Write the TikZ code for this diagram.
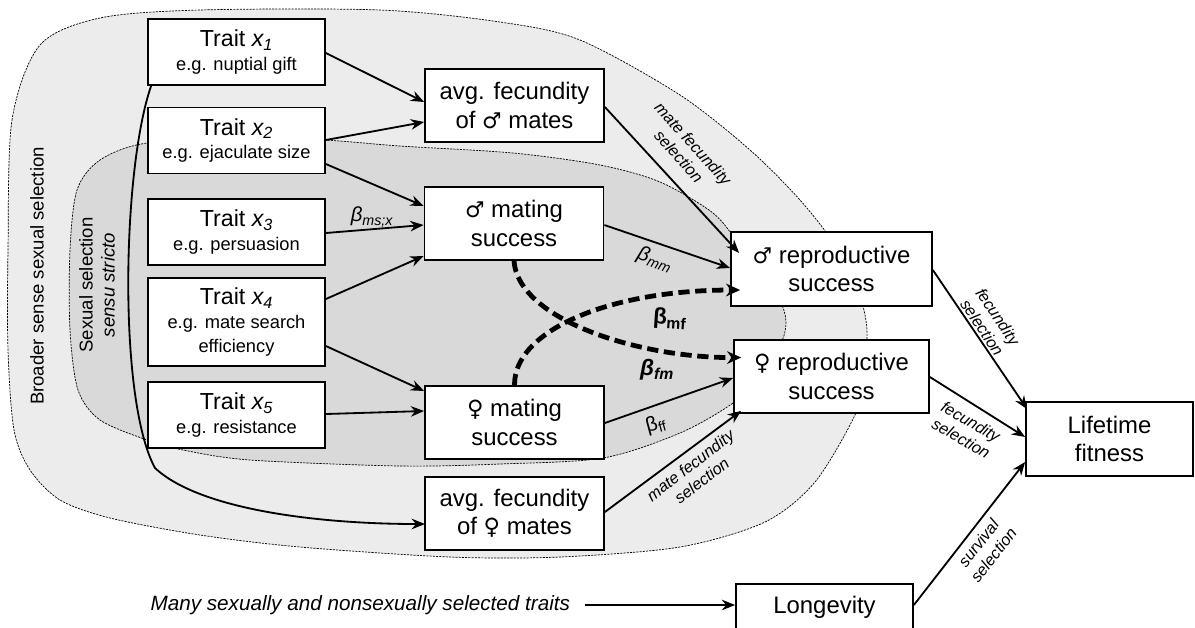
\documentclass[tikz,border=0pt]{standalone}
\usepackage{fontspec}
\setmainfont{Liberation Sans}
\newfontfamily\symfont{DejaVu Sans}
\usetikzlibrary{arrows.meta,calc}
\definecolor{outerzone}{gray}{0.925}
\definecolor{innerzone}{gray}{0.85}
\tikzset{
  box/.style={draw, line width=1.2pt, fill=white, align=center, inner sep=0pt, font=\fontsize{17}{20}\selectfont},
  trait/.style={box, minimum width=4.425cm, minimum height=1.65cm, font=\fontsize{16.5}{17}\selectfont},
  mid/.style={box, minimum width=4.475cm, minimum height=1.825cm},
  arr/.style={line width=1.3pt, -{Stealth[length=9.5pt,width=7.5pt]}},
  dasharr/.style={line width=3.4pt, dash pattern=on 8pt off 4pt, -{Stealth[length=10pt,width=9pt]}},
  zone/.style={line width=0.5pt, dash pattern=on 1.5pt off 0.8pt},
  sel/.style={font=\fontsize{11.5}{13.5}\selectfont\itshape, align=center},
  coef/.style={font=\fontsize{14.5}{16}\selectfont},
  coefbig/.style={font=\fontsize{16}{17}\selectfont\bfseries}
}
\newcommand{\eg}[1]{{\fontsize{13}{15}\selectfont #1}}
\newcommand{\male}{{\symfont\fontsize{15.5}{20}\selectfont ♂}}
\newcommand{\female}{{\symfont\fontsize{16}{20}\selectfont ♀}}
\begin{document}
\begin{tikzpicture}[x=0.025cm,y=-0.025cm]
    \useasboundingbox (0,0) rectangle (1195,627);
    \draw[zone, fill=outerzone] plot[smooth cycle] coordinates {(8,250) (12,120) (40,45) (100,18) (200,10) (380,10) (500,22) (580,40) (680,95) (750,150) (800,200) (835,245) (858,290) (867,330) (863,380) (855,415) (815,482) (765,522) (680,547) (560,557) (450,557) (300,547) (200,535) (110,518) (60,500) (30,470) (14,430) (8,350)};
    \draw[zone, fill=innerzone] plot[smooth cycle] coordinates {(147,143) (250,138) (325,140) (400,146) (513,153) (600,165) (660,182) (713,213) (740,245) (765,275) (782,305) (786,323) (782,341) (765,372) (733,403) (680,433) (603,458) (500,464) (400,466) (250,460) (183,450) (147,440) (100,420) (78,390) (70,330) (70,250) (77,190) (100,160)};
    \node[rotate=90, font=\fontsize{13.2}{15}\selectfont] (broad) at (37,276) {Broader sense sexual selection};
    \node[rotate=90, align=center, font=\fontsize{13.2}{15.5}\selectfont] (strict) at (97,285) {Sexual selection\\\textit{sensu stricto}};
    \node[trait] (x1) at (236.5,52) {Trait \textit{x\textsubscript{1}}\\\eg{e.g. nuptial gift}};
    \node[trait] (x2) at (236.5,140.5) {Trait \textit{x\textsubscript{2}}\\\eg{e.g. ejaculate size}};
    \node[trait] (x3) at (236.5,232) {Trait \textit{x\textsubscript{3}}\\\eg{e.g. persuasion}};
    \node[trait, minimum height=2.2cm] (x4) at (236.5,322) {Trait \textit{x\textsubscript{4}}\\\eg{e.g. mate search}\\\eg{efficiency}};
    \node[trait] (x5) at (236.5,415) {Trait \textit{x\textsubscript{5}}\\\eg{e.g. resistance}};
    \draw[arr] ($(x1.south west)+(4,0)$) .. controls (122,170) and (118,400) .. (155,468) .. controls (200,510) and (320,524) .. (425,524);
    \node[mid] (amale) at (514.5,105.5) {avg. fecundity\\of \male{} mates};
    \node[mid] (msucc) at (514,223.5) {\male{} mating\\success};
    \node[mid] (fsucc) at (514.5,422.5) {\female{} mating\\success};
    \node[mid] (afemale) at (514.5,513.5) {avg. fecundity\\of \female{} mates};
    \node[box, minimum width=5.025cm, minimum height=1.85cm] (mrepro) at (831.5,269) {\male{} reproductive\\success};
    \node[box, minimum width=4.875cm, minimum height=1.825cm] (frepro) at (831.5,376.5) {\female{} reproductive\\success};
    \node[box, minimum width=4.175cm, minimum height=1.85cm] (life) at (1109.5,439) {Lifetime\\fitness};
    \node[box, minimum width=4.425cm, minimum height=1.15cm] (longev) at (824.5,607) {Longevity};
    \node[anchor=east, font=\fontsize{14.7}{16}\selectfont\itshape] (many) at (575,605) {Many sexually and nonsexually selected traits};
    \draw[arr] (x1.east |- 0,53) -- (amale.west |- 0,102);
    \draw[arr] (x2.east |- 0,140) -- (amale.west |- 0,122);
    \draw[arr] (x2.east |- 0,164) -- (msucc.west |- 0,206);
    \draw[arr] (x3.east |- 0,233) -- (msucc.west |- 0,225);
    \draw[arr] (x4.east |- 0,299) -- (msucc.west |- 0,256);
    \draw[arr] (x4.east |- 0,346) -- (fsucc.west |- 0,391);
    \draw[arr] (x5.east |- 0,414) -- (fsucc.west |- 0,411);
    \draw[arr] (amale.east |- 0,107) -- ($(mrepro.west)+(9,-16)$);
    \draw[arr] (msucc.east |- 0,225) -- (mrepro.west |- 0,268);
    \draw[arr] (fsucc.east |- 0,423) -- (frepro.west |- 0,378);
    \draw[arr] (afemale.east |- 0,512) -- ($(frepro.south west)+(8,-3)$);
    \draw[arr] (mrepro.east |- 0,270) -- ($(life.north west)+(2,8)$);
    \draw[arr] (frepro.east |- 0,377) -- (life.west |- 0,437);
    \draw[arr] (longev.east |- 0,605) -- (life.west |- 0,462);
    \draw[arr] ([xshift=7pt]many.east) -- (longev.west |- 0,605);
    \draw[dasharr] (msucc.south) .. controls (518,320) and (640,358) .. ($(frepro.west)+(8,-19)$);
    \draw[dasharr] (fsucc.north) .. controls (514,330) and (610,290) .. ($(mrepro.west)+(10,21)$);
    \node[coef] (bmsx) at (372,217) {\textit{β\textsubscript{ms;x}}};
    \node[coef, rotate=-20] (bmm) at (655,260) {\textit{β\textsubscript{mm}}};
    \node[coefbig, rotate=-4] (bmf) at (670,319) {β\textsubscript{mf}};
    \node[coefbig] (bfm) at (657,370) {\textit{β\textsubscript{fm}}};
    \node[coef, rotate=15] (bff) at (656,425) {β\textsubscript{ff}};
    \node[sel, rotate=-48] (mfsm) at (686,150) {mate fecundity\\selection};
    \node[sel, rotate=37.5] (mfsf) at (696,473) {mate fecundity\\selection};
    \node[sel, rotate=-56] (fsm) at (990,322) {fecundity\\selection};
    \node[sel, rotate=-30] (fsf) at (966,430) {fecundity\\selection};
    \node[sel, rotate=52] (surv) at (986,549) {survival\\selection};
  \end{tikzpicture}
\end{document}
